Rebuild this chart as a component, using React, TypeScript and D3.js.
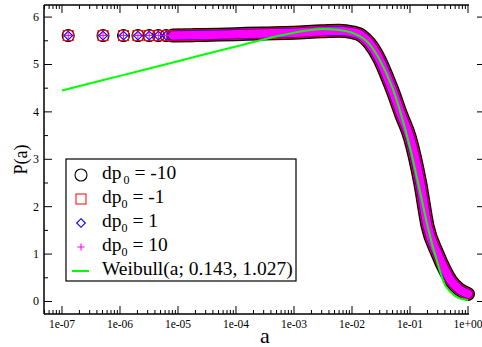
import * as d3 from 'd3';

// isolated markers at the left (a, P)
const sparseA = [1.28e-7, 5.1e-7, 1.15e-6, 2.04e-6, 3.19e-6, 4.59e-6, 6.25e-6, 8.16e-6, 1.03e-5, 1.28e-5, 1.54e-5, 1.84e-5];
const sparseP = [5.61, 5.61, 5.61, 5.61, 5.61, 5.61, 5.61, 5.61, 5.615, 5.615, 5.615, 5.62];

// dense part of the data, where the markers merge into a band
const bandA = [8.2e-6, 2e-5, 5e-5, 1e-4, 3e-4, 1e-3, 3e-3, 6e-3, 1e-2, 1.5e-2, 2e-2, 3e-2, 4e-2, 5e-2, 7e-2, 0.1, 0.15, 0.2, 0.3, 0.4, 0.5, 0.7, 1.0];
const bandP = [5.61, 5.62, 5.63, 5.64, 5.655, 5.67, 5.7, 5.71, 5.68, 5.6, 5.45, 5.1, 4.75, 4.45, 3.95, 3.45, 2.5, 1.6, 1.0, 0.66, 0.45, 0.26, 0.16];

// Weibull fit line
const weibA = [1e-7, 1e-6, 1e-5, 1e-4, 1e-3, 3e-3, 6e-3, 1e-2, 2e-2, 3e-2, 5e-2, 7e-2, 0.1, 0.15, 0.2, 0.3, 0.4, 0.5, 0.7, 1.0];
const weibP = [4.45, 4.76, 5.07, 5.38, 5.67, 5.75, 5.73, 5.67, 5.43, 5.1, 4.5, 3.95, 3.25, 2.3, 1.6, 0.8, 0.35, 0.2, 0.07, 0.03];

const xTickLabels = ['1e-07', '1e-06', '1e-05', '1e-04', '1e-03', '1e-02', '1e-01', '1e+00'];
const yTicks = [0, 1, 2, 3, 4, 5, 6];
const legendLabels = ['-10', '-1', '1', '10'];

const W = 482, H = 347;
const L = 44, R = 469, T = 5, B = 314;

export default function App() {
  const x = d3.scaleLog().domain([Math.pow(10, -7.31), Math.pow(10, 0.017)]).range([L, R]);
  const y = d3.scaleLinear().domain([-0.264, 6.255]).range([B, T]);

  const bandPts = bandA.map((a, i) => [x(a), y(bandP[i])] as [number, number]);
  const weibPts = weibA.map((a, i) => [x(a), y(weibP[i])] as [number, number]);
  const line = d3.line().curve(d3.curveMonotoneX);
  const bandPath = line(bandPts) || '';
  const weibPath = line(weibPts) || '';

  const sparse = sparseA.map((a, i) => ({ cx: x(a), cy: y(sparseP[i]) }));

  // minor ticks on the log axis
  const minorX: number[] = [];
  for (let e = -8; e <= 0; e++) {
    for (let k = 2; k <= 9; k++) {
      const px = x(k * Math.pow(10, e));
      if (px > L && px < R) minorX.push(px);
    }
  }
  const majorX = xTickLabels.map((_, i) => x(Math.pow(10, i - 7)));
  const minorY = yTicks.map((v) => v + 0.5).filter((v) => y(v) > T && y(v) < B);

  const serif = "'Liberation Serif'";

  const circle = (cx: number, cy: number, k: number) => (
    <circle key={k} cx={cx} cy={cy} r={6} fill="none" stroke="#000" strokeWidth={1.1} />
  );
  const square = (cx: number, cy: number, k: number) => (
    <rect key={k} x={cx - 5} y={cy - 5} width={10} height={10} fill="none" stroke="#ff0000" strokeWidth={1} />
  );
  const diamond = (cx: number, cy: number, k: number) => (
    <path key={k} d={`M${cx},${cy - 4.3}L${cx + 4.3},${cy}L${cx},${cy + 4.3}L${cx - 4.3},${cy}Z`} fill="none" stroke="#0000ff" strokeWidth={1.1} />
  );
  const plus = (cx: number, cy: number, k: number) => (
    <path key={k} d={`M${cx - 3.6},${cy}H${cx + 3.6}M${cx},${cy - 3.6}V${cy + 3.6}`} fill="none" stroke="#ff00ff" strokeWidth={1.1} />
  );

  const legX = 66, legY = 159, legW = 230, legH = 122;
  const rowY = [175, 199, 223, 247, 271];
  const symX = 81;
  const textX = 102;
  const tf = { fontFamily: serif };

  return (
    <svg width={W} height={H} style={{ position: 'absolute', left: 0, top: 0, background: '#fff' }}>
      <rect x={0} y={0} width={W} height={H} fill="#fff" />

      {/* data: circles */}
      <path d={bandPath} fill="none" stroke="#000" strokeWidth={14} strokeLinecap="round" strokeLinejoin="round" />
      {sparse.map((p, i) => circle(p.cx, p.cy, i))}
      {/* squares */}
      <path d={bandPath} fill="none" stroke="#ff0000" strokeWidth={11.5} strokeLinecap="round" strokeLinejoin="round" />
      {sparse.map((p, i) => square(p.cx, p.cy, i))}
      {/* diamonds */}
      <path d={bandPath} fill="none" stroke="#0000ff" strokeWidth={9.6} strokeLinecap="round" strokeLinejoin="round" />
      {sparse.map((p, i) => diamond(p.cx, p.cy, i))}
      {/* pluses */}
      <path d={bandPath} fill="none" stroke="#ff00ff" strokeWidth={8.4} strokeLinecap="round" strokeLinejoin="round" />
      {sparse.map((p, i) => plus(p.cx, p.cy, i))}

      {/* Weibull */}
      <path d={weibPath} fill="none" stroke="#00ff00" strokeWidth={2} />

      {/* frame */}
      <g stroke="#000" strokeWidth={1.5} fill="none">
        <line x1={L} y1={T} x2={R} y2={T} />
        <line x1={L} y1={B} x2={R} y2={B} />
        <line x1={L} y1={T} x2={L} y2={B} />
      </g>
      <g stroke="#000" strokeWidth={1}>
        {majorX.map((px, i) => (
          <g key={'mx' + i}>
            <line x1={px} y1={B} x2={px} y2={B - 8} />
            <line x1={px} y1={T} x2={px} y2={T + 8} />
          </g>
        ))}
        {minorX.map((px, i) => (
          <g key={'nx' + i}>
            <line x1={px} y1={B} x2={px} y2={B - 4} />
            <line x1={px} y1={T} x2={px} y2={T + 4} />
          </g>
        ))}
        {yTicks.map((v) => (
          <g key={'my' + v}>
            <line x1={L} y1={y(v)} x2={L + 8} y2={y(v)} />
            <line x1={477} y1={y(v)} x2={W} y2={y(v)} />
          </g>
        ))}
        {minorY.map((v) => (
          <line key={'ny' + v} x1={L} y1={y(v)} x2={L + 4} y2={y(v)} />
        ))}
      </g>

      {/* tick labels */}
      {xTickLabels.map((t, i) => (
        <text key={t} x={majorX[i]} y={B + 14} fontSize={11.5} textAnchor="middle" style={tf}>{t}</text>
      ))}
      {yTicks.map((v) => (
        <text key={'yl' + v} x={39} y={y(v) + 4} fontSize={12} textAnchor="end" style={tf}>{v}</text>
      ))}

      {/* axis titles */}
      <text x={265} y={343} fontSize={22} textAnchor="middle" style={tf}>a</text>
      <text transform={`translate(27, ${(T + B) / 2}) rotate(-90)`} fontSize={18} textAnchor="middle" style={tf}>P(a)</text>

      {/* legend */}
      <rect x={legX} y={legY} width={legW} height={legH} fill="#fff" stroke="#000" strokeWidth={1.2} />
      {legendLabels.map((lab, i) => (
        <g key={'lg' + i}>
          {i === 0 && circle(symX, rowY[i], 0)}
          {i === 1 && square(symX, rowY[i], 0)}
          {i === 2 && diamond(symX, rowY[i], 0)}
          {i === 3 && plus(symX, rowY[i], 0)}
          <text x={textX} y={rowY[i] + 4} fontSize={19.5} style={tf}>
            dp
            <tspan dx={i === 0 ? 2 : 0} dy={5} fontSize={12}>0</tspan>
            <tspan dy={-5}>{` = ${lab}`}</tspan>
          </text>
        </g>
      ))}
      <line x1={72} y1={rowY[4]} x2={89} y2={rowY[4]} stroke="#00ff00" strokeWidth={2} />
      <text x={textX} y={rowY[4] + 4} fontSize={19.5} style={tf}>Weibull(a; 0.143, 1.027)</text>
    </svg>
  );
}
